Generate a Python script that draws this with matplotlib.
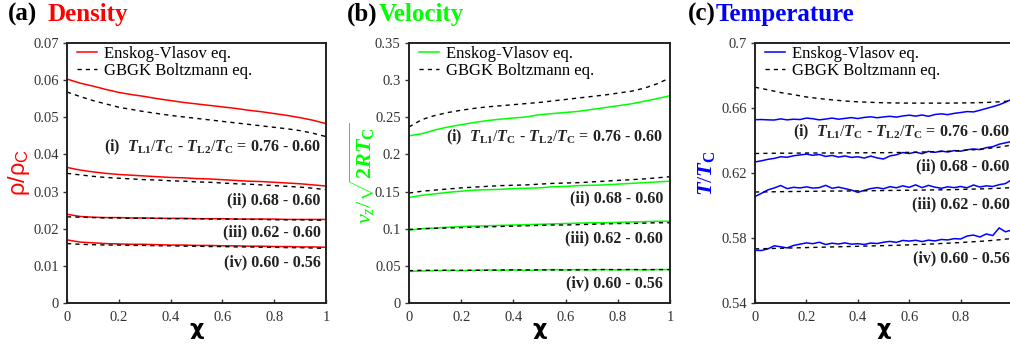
import numpy as np
import matplotlib
matplotlib.use("Agg")
import matplotlib.pyplot as plt
from matplotlib.ticker import FuncFormatter

plt.rcParams['font.family'] = ['Liberation Serif', 'DejaVu Serif']
plt.rcParams['mathtext.fontset'] = 'custom'
plt.rcParams['mathtext.rm'] = 'Liberation Serif'
plt.rcParams['mathtext.it'] = 'Liberation Serif:italic'
plt.rcParams['mathtext.bf'] = 'Liberation Serif:bold'
plt.rcParams['mathtext.bfit'] = 'Liberation Serif:italic:bold'

# x grids (chi)
chi = np.linspace(0, 1, 21)
chi_fine = np.linspace(0, 1, 41)

# (a) density  rho/rho_C
dens_ev = [
    [0.0603, 0.0592, 0.0584, 0.0575, 0.0567, 0.0561, 0.0556, 0.0550, 0.0545, 0.0540, 0.0536,
     0.0532, 0.0528, 0.0524, 0.0519, 0.0515, 0.0510, 0.0505, 0.0499, 0.0492, 0.0483],
    [0.0365, 0.0358, 0.0353, 0.0349, 0.0346, 0.0344, 0.0342, 0.0340, 0.0338, 0.0337, 0.0335,
     0.0334, 0.0332, 0.0330, 0.0328, 0.0327, 0.0325, 0.0323, 0.0321, 0.0318, 0.0315],
    [0.0239, 0.0233, 0.0231, 0.0230, 0.0230, 0.0229, 0.0229, 0.0228, 0.0228, 0.0228, 0.0227,
     0.0227, 0.0227, 0.0226, 0.0226, 0.0226, 0.0226, 0.0225, 0.0225, 0.0225, 0.0225],
    [0.0170, 0.0164, 0.0162, 0.0160, 0.0159, 0.0158, 0.0158, 0.0157, 0.0156, 0.0156, 0.0155,
     0.0155, 0.0154, 0.0154, 0.0153, 0.0153, 0.0152, 0.0152, 0.0151, 0.0151, 0.0150],
]
dens_bgk = [
    [0.0568, 0.0556, 0.0545, 0.0536, 0.0527, 0.0521, 0.0515, 0.0510, 0.0505, 0.0501, 0.0497,
     0.0493, 0.0489, 0.0485, 0.0481, 0.0477, 0.0473, 0.0469, 0.0464, 0.0457, 0.0448],
    [0.0349, 0.0345, 0.0341, 0.0338, 0.0336, 0.0334, 0.0332, 0.0331, 0.0329, 0.0328, 0.0326,
     0.0325, 0.0323, 0.0321, 0.0320, 0.0318, 0.0316, 0.0314, 0.0312, 0.0309, 0.0305],
    [0.0232, 0.0231, 0.0230, 0.0229, 0.0229, 0.0228, 0.0228, 0.0228, 0.0227, 0.0227, 0.0227,
     0.0226, 0.0226, 0.0226, 0.0225, 0.0225, 0.0224, 0.0224, 0.0224, 0.0223, 0.0223],
    [0.0160, 0.0158, 0.0157, 0.0156, 0.0156, 0.0155, 0.0155, 0.0154, 0.0154, 0.0153, 0.0153,
     0.0152, 0.0152, 0.0151, 0.0151, 0.0150, 0.0150, 0.0149, 0.0149, 0.0148, 0.0147],
]

# (b) velocity  v_z / sqrt(2RT_C)
vel_ev = [
    [0.225, 0.228, 0.233, 0.237, 0.240, 0.243, 0.2455, 0.2475, 0.249, 0.2505, 0.2535,
     0.255, 0.2565, 0.258, 0.2605, 0.263, 0.2655, 0.268, 0.2715, 0.275, 0.279],
    [0.142, 0.145, 0.147, 0.149, 0.1505, 0.152, 0.1525, 0.153, 0.154, 0.1545, 0.155,
     0.1565, 0.157, 0.158, 0.1585, 0.159, 0.160, 0.161, 0.162, 0.163, 0.164],
    [0.098, 0.100, 0.101, 0.102, 0.103, 0.1035, 0.104, 0.1045, 0.105, 0.1055, 0.106,
     0.1065, 0.107, 0.1075, 0.108, 0.108, 0.1085, 0.109, 0.1095, 0.110, 0.110],
    [0.0425, 0.043, 0.0435, 0.044, 0.0435, 0.044, 0.0445, 0.044, 0.0445, 0.044, 0.0445,
     0.045, 0.0445, 0.045, 0.0445, 0.045, 0.0445, 0.045, 0.0445, 0.045, 0.045],
]
vel_bgk = [
    [0.237, 0.247, 0.2525, 0.2565, 0.2595, 0.262, 0.264, 0.2655, 0.267, 0.2685, 0.270,
     0.272, 0.274, 0.276, 0.278, 0.280, 0.2825, 0.285, 0.289, 0.295, 0.303],
    [0.148, 0.1505, 0.152, 0.1535, 0.155, 0.156, 0.157, 0.158, 0.1585, 0.159, 0.160,
     0.161, 0.1615, 0.162, 0.163, 0.164, 0.165, 0.166, 0.167, 0.1685, 0.170],
    [0.099, 0.100, 0.1005, 0.101, 0.1015, 0.102, 0.1025, 0.103, 0.1035, 0.104, 0.1045,
     0.105, 0.105, 0.1055, 0.106, 0.1065, 0.107, 0.107, 0.1075, 0.108, 0.108],
    [0.0435, 0.044, 0.044, 0.044, 0.044, 0.044, 0.044, 0.0445, 0.0445, 0.0445, 0.0445,
     0.0445, 0.0445, 0.0445, 0.045, 0.045, 0.045, 0.045, 0.045, 0.045, 0.045],
]

# (c) temperature  T/T_C  (Enskog-Vlasov on the fine grid)
temp_ev = [
    [0.6528, 0.6529, 0.6527, 0.6526, 0.6533, 0.6527, 0.6531, 0.6529, 0.6538, 0.6534, 0.6527,
     0.6532, 0.6538, 0.6531, 0.6536, 0.6541, 0.6535, 0.6542, 0.6546, 0.6540, 0.6545,
     0.6549, 0.6544, 0.6551, 0.6556, 0.6550, 0.6557, 0.6549, 0.6560, 0.6564, 0.6559,
     0.6567, 0.6572, 0.6578, 0.6576, 0.6586, 0.6597, 0.6608, 0.6620, 0.6636, 0.6655],
    [0.6268, 0.6275, 0.6284, 0.6290, 0.6300, 0.6297, 0.6306, 0.6311, 0.6316, 0.6309, 0.6314,
     0.6302, 0.6308, 0.6298, 0.6305, 0.6296, 0.6300, 0.6292, 0.6304, 0.6293, 0.6286,
     0.6305, 0.6312, 0.6326, 0.6320, 0.6328, 0.6319, 0.6333, 0.6327, 0.6335, 0.6329,
     0.6338, 0.6334, 0.6343, 0.6348, 0.6344, 0.6356, 0.6362, 0.6377, 0.6386, 0.6394],
    [0.6055, 0.6075, 0.6096, 0.6108, 0.6123, 0.6104, 0.6112, 0.6108, 0.6115, 0.6107, 0.6110,
     0.6124, 0.6106, 0.6113, 0.6104, 0.6095, 0.6081, 0.6093, 0.6104, 0.6110, 0.6103,
     0.6116, 0.6109, 0.6121, 0.6112, 0.6127, 0.6110, 0.6124, 0.6113, 0.6106, 0.6115,
     0.6110, 0.6117, 0.6109, 0.6126, 0.6114, 0.6121, 0.6117, 0.6128, 0.6135, 0.6160],
    [0.5724, 0.5723, 0.5733, 0.5752, 0.5746, 0.5739, 0.5754, 0.5762, 0.5770, 0.5765, 0.5774,
     0.5760, 0.5768, 0.5763, 0.5770, 0.5762, 0.5765, 0.5760, 0.5769, 0.5766, 0.5774,
     0.5779, 0.5773, 0.5785, 0.5781, 0.5786, 0.5778, 0.5787, 0.5782, 0.5791, 0.5788,
     0.5796, 0.5794, 0.5812, 0.5818, 0.5806, 0.5825, 0.5815, 0.5862, 0.5838, 0.5850],
]
temp_bgk = [
    [0.6728, 0.6712, 0.6695, 0.6682, 0.6668, 0.6658, 0.6650, 0.6643, 0.6638, 0.6635, 0.6632,
     0.6631, 0.6630, 0.6630, 0.6630, 0.6630, 0.6631, 0.6632, 0.6634, 0.6638, 0.6644],
    [0.6320, 0.6321, 0.6322, 0.6322, 0.6323, 0.6323, 0.6323, 0.6324, 0.6324, 0.6325, 0.6325,
     0.6326, 0.6327, 0.6329, 0.6331, 0.6334, 0.6338, 0.6343, 0.6350, 0.6359, 0.6372],
    [0.6083, 0.6084, 0.6085, 0.6086, 0.6087, 0.6088, 0.6089, 0.6089, 0.6090, 0.6091, 0.6092,
     0.6093, 0.6094, 0.6095, 0.6096, 0.6097, 0.6099, 0.6101, 0.6103, 0.6106, 0.6110],
    [0.5733, 0.5735, 0.5737, 0.5739, 0.5741, 0.5743, 0.5745, 0.5747, 0.5749, 0.5751, 0.5753,
     0.5755, 0.5758, 0.5761, 0.5764, 0.5768, 0.5772, 0.5777, 0.5782, 0.5789, 0.5797],
]

case_first = r"(i)  $\mathbfit{T}_{\mathbf{L1}}/\mathbfit{T}_{\mathbf{C}}$ - $\mathbfit{T}_{\mathbf{L2}}/\mathbfit{T}_{\mathbf{C}}$ = 0.76 - 0.60"
case_labels = [case_first, "(ii) 0.68 - 0.60", "(iii) 0.62 - 0.60", "(iv) 0.60 - 0.56"]

fig = plt.figure(figsize=(10.1, 3.52), dpi=100)
W, H = 1010, 352


def make_axes(left_px, right_px):
    return fig.add_axes([left_px / W, (H - 303) / H, (right_px - left_px) / W, 260 / H])


panels = [
    dict(ax=make_axes(67, 326), color='#ff0000', ev=dens_ev, bgk=dens_bgk, x_ev=chi,
         ylim=(0, 0.07), yticks=np.arange(0, 0.0701, 0.01),
         ylabel=r"ρ/ρ$_{\mathregular{C}}$", ylx=-0.135,
         label_y=[0.60, 0.396, 0.273, 0.158], label_x=0.98),
    dict(ax=make_axes(409, 670), color='#00ff00', ev=vel_ev, bgk=vel_bgk, x_ev=chi,
         ylim=(0, 0.35), yticks=np.arange(0, 0.351, 0.05),
         ylabel=r"$v_z/\sqrt{\mathbf{2}\mathbfit{RT}_{\mathbf{C}}}$", ylx=-0.123,
         label_y=[0.638, 0.404, 0.25, 0.077], label_x=0.973),
    dict(ax=make_axes(755, 1012), color='#0000ff', ev=temp_ev, bgk=temp_bgk, x_ev=chi_fine,
         ylim=(0.54, 0.70), yticks=np.arange(0.54, 0.701, 0.04),
         ylabel=r"$\mathbfit{T}/\mathbfit{T}_{\mathbf{C}}$", ylx=-0.148,
         label_y=[0.657, 0.527, 0.38, 0.173], label_x=0.99),
]

fmt = FuncFormatter(lambda v, p: "%g" % round(v, 4))

for i, p in enumerate(panels):
    ax = p['ax']
    for k in range(4):
        ax.plot(p['x_ev'], p['ev'][k], color=p['color'], lw=1.1,
                label="Enskog-Vlasov eq." if k == 0 else None)
        ax.plot(chi, p['bgk'][k], color='black', lw=1.0, ls=(0, (3, 3)),
                label="GBGK Boltzmann eq." if k == 0 else None)
        ax.text(p['label_x'], p['label_y'][k], case_labels[k], transform=ax.transAxes,
                ha='right', va='center', fontsize=11.5, fontweight='bold', color='#222222')
    ax.set_xlim(0, 1)
    ax.set_ylim(*p['ylim'])
    ax.set_xticks(np.arange(0, 1.01, 0.2))
    ax.set_yticks(p['yticks'])
    ax.xaxis.set_major_formatter(fmt)
    ax.yaxis.set_major_formatter(fmt)
    ax.tick_params(axis='y', direction='out', length=3, width=1, labelsize=10.5,
                   colors='#333333', pad=3)
    ax.tick_params(axis='x', direction='in', length=3, width=1, labelsize=10.5,
                   colors='#333333', pad=6)
    for s in ax.spines.values():
        s.set_linewidth(1.4)
        s.set_color('#222222')
    if i == 0:
        ax.set_ylabel(p['ylabel'], color=p['color'], fontsize=17, family='Liberation Sans')
    else:
        ax.set_ylabel(p['ylabel'], color=p['color'], fontsize=16)
    ax.yaxis.set_label_coords(p['ylx'], 0.5)
    ax.set_xlabel("χ", fontsize=16, fontweight='bold', family='DejaVu Sans')
    ax.xaxis.set_label_coords(0.5, -0.06)
    ax.legend(loc='upper left', bbox_to_anchor=(0.026, 1.0), frameon=False,
              fontsize=12, handlelength=1.2, handletextpad=0.42,
              labelspacing=0.05, borderaxespad=0.0, borderpad=0.2)

# the right edge of panel (c) is cropped in the original: no label under chi = 1
panels[2]['ax'].set_xticklabels(["0", "0.2", "0.4", "0.6", "0.8", ""])

# panel titles
titles = [(8, "(a)", 48, "Density", '#ff0000'),
          (347, "(b)", 379, "Velocity", '#00ff00'),
          (688, "(c)", 716, "Temperature", '#0000ff')]
for x1, tag, x2, word, col in titles:
    fig.text(x1 / W, (H - 21) / H, tag, fontsize=18, fontweight='bold', color='black',
             va='baseline')
    fig.text(x2 / W, (H - 21) / H, word, fontsize=18, fontweight='bold', color=col,
             va='baseline')

fig.savefig("out.png", dpi=100)
